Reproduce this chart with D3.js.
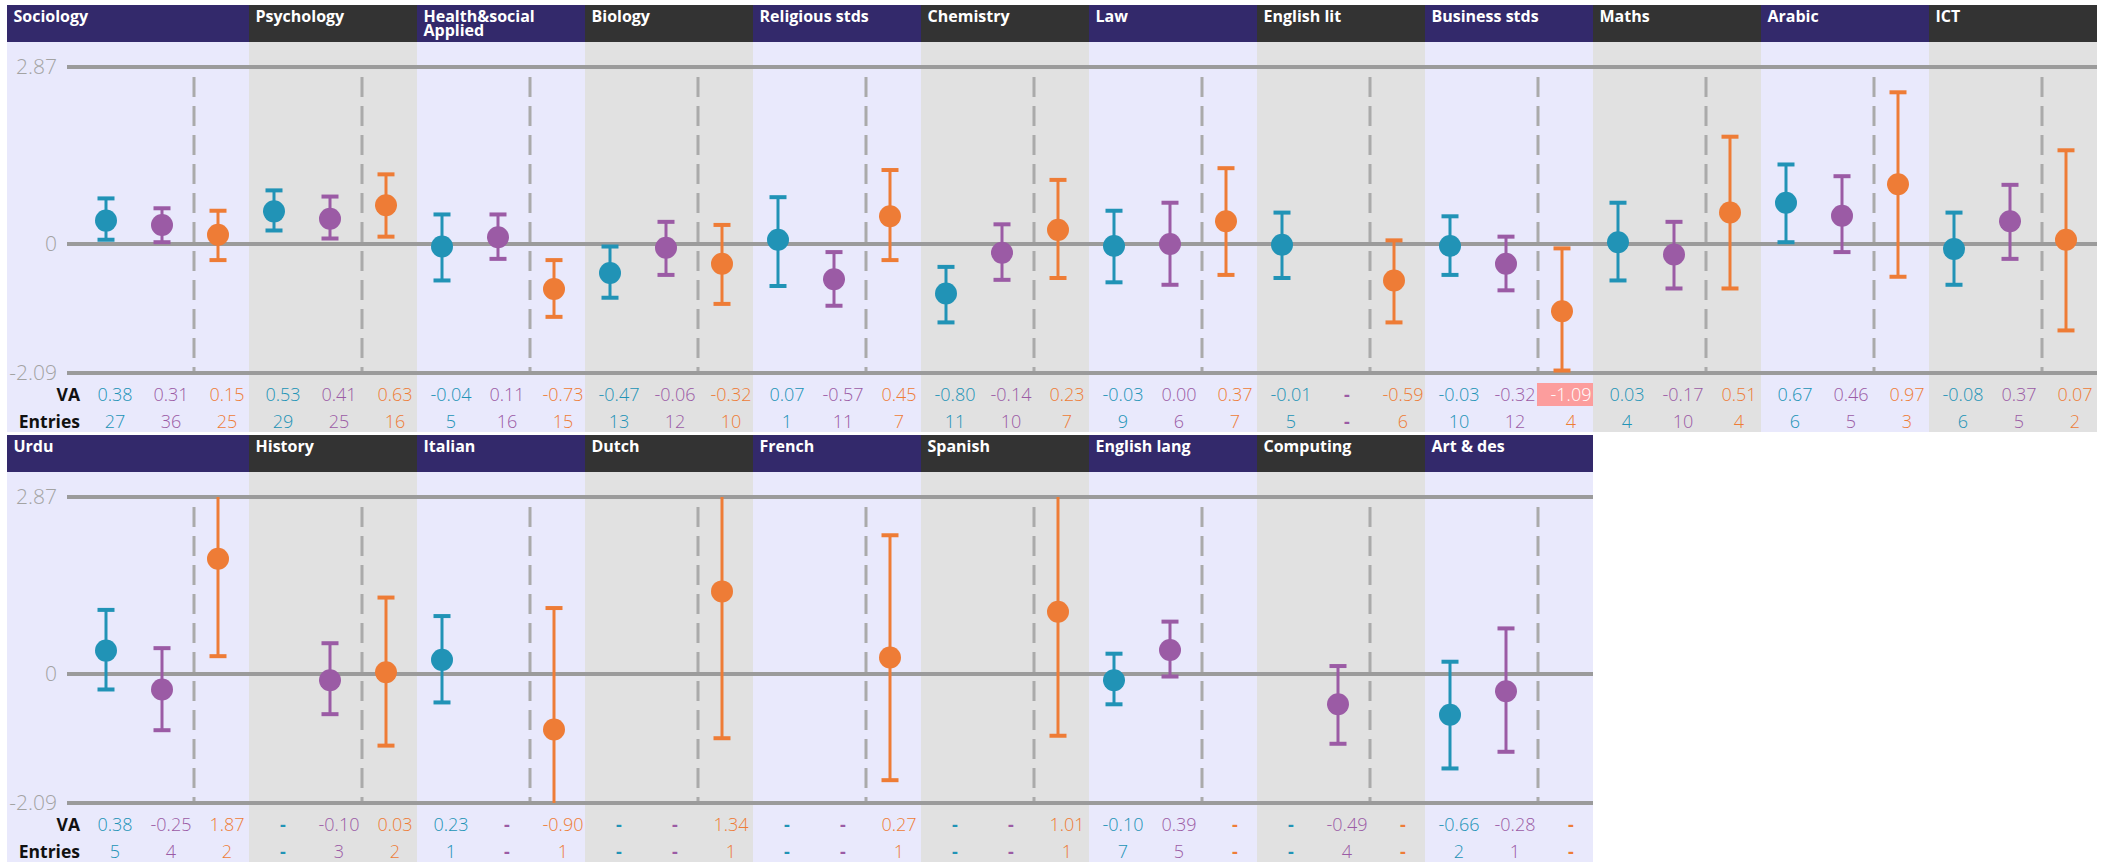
<!DOCTYPE html>
<html><head><meta charset="utf-8">
<script src="https://cdn.jsdelivr.net/npm/d3@7"></script>
<style>body{margin:0;background:#fff} svg{display:block}</style>
</head><body><svg id="c" width="2112" height="867"></svg>
<script>
const subjects = ["Sociology","Psychology","Health&social\nApplied","Biology","Religious stds","Chemistry","Law","English lit","Business stds","Maths","Arabic","ICT",
                  "Urdu","History","Italian","Dutch","French","Spanish","English lang","Computing","Art & des"];
const perRow = 12;
const va1 = [0.38,0.53,-0.04,-0.47,0.07,-0.80,-0.03,-0.01,-0.03,0.03,0.67,-0.08, 0.38,null,0.23,null,null,null,-0.10,null,-0.66];
const lo1 = [0.07,0.22,-0.59,-0.87,-0.68,-1.27,-0.62,-0.55,-0.50,-0.59,0.03,-0.66, -0.25,null,-0.46,null,null,null,-0.49,null,-1.53];
const hi1 = [0.74,0.87,0.48,-0.04,0.76,-0.37,0.54,0.51,0.45,0.67,1.29,0.51, 1.04,null,0.94,null,null,null,0.33,null,0.20];
const n1  = [27,29,5,13,1,11,9,5,10,4,6,6, 5,null,1,null,null,null,7,null,2];
const va2 = [0.31,0.41,0.11,-0.06,-0.57,-0.14,0.00,null,-0.32,-0.17,0.46,0.37, -0.25,-0.10,null,null,null,null,0.39,-0.49,-0.28];
const lo2 = [0.03,0.09,-0.24,-0.50,-1.00,-0.58,-0.66,null,-0.75,-0.72,-0.13,-0.24, -0.91,-0.65,null,null,null,null,-0.04,-1.13,-1.26];
const hi2 = [0.58,0.77,0.48,0.36,-0.13,0.32,0.67,null,0.12,0.36,1.10,0.96, 0.42,0.50,null,null,null,null,0.85,0.13,0.74];
const n2  = [36,25,16,12,11,10,6,null,12,10,5,5, 4,3,null,null,null,null,5,4,1];
const va3 = [0.15,0.63,-0.73,-0.32,0.45,0.23,0.37,-0.59,-1.09,0.51,0.97,0.07, 1.87,0.03,-0.90,1.34,0.27,1.01,null,null,null];
const lo3 = [-0.26,0.12,-1.18,-0.97,-0.26,-0.55,-0.50,-1.27,-2.05,-0.72,-0.53,-1.40, 0.29,-1.16,-2.87,-1.04,-1.72,-1.00,null,null,null];
const hi3 = [0.54,1.13,-0.26,0.31,1.20,1.04,1.23,0.06,-0.07,1.74,2.46,1.52, 3.45,1.24,1.07,3.72,2.25,3.02,null,null,null];
const n3  = [25,16,15,10,7,7,7,6,4,4,3,2, 2,2,1,1,1,1,null,null,null];
const yTicks = [2.87, 0, -2.09];
const seriesColors = ["#2193b6","#9b5ba5","#ee7c36"];

const series = [
  {va: va1, lo: lo1, hi: hi1, n: n1, color: seriesColors[0]},
  {va: va2, lo: lo2, hi: hi2, n: n2, color: seriesColors[1]},
  {va: va3, lo: lo3, hi: hi3, n: n3, color: seriesColors[2]}
];

const svg = d3.select("#c");
const fmt = d3.formatLocale({decimal: ".", thousands: ",", grouping: [3], currency: ["", ""], minus: "-"}).format(".2f");
const tickFmt = v => v === 0 ? "0" : fmt(v);

const rows = [subjects.slice(0, perRow), subjects.slice(perRow)];
const rowTops = [5, 435];
const left = 7, labelW = 74, groupW = 168, headerH = 37, bodyH = 390;
const FONT = "'Open Sans', 'Noto Sans', sans-serif";

rows.forEach((subs, r) => {
  const top = rowTops[r];
  const base = r * perRow;
  const x = d3.scaleBand().domain(subs).range([left + labelW, left + labelW + subs.length * groupW]);
  const sub = d3.scaleBand().domain([0, 1, 2]).range([0, x.bandwidth()]);
  const y = d3.scaleLinear().domain([yTicks[2], yTicks[0]]).range([top + 368, top + 62]);
  const xEnd = x.range()[1];
  const g = svg.append("g");

  // backgrounds + headers
  subs.forEach((s, i) => {
    const x0 = i === 0 ? left : x(s);
    const x1 = x(s) + x.bandwidth();
    const lav = i % 2 === 0;
    g.append("rect").attr("x", x0).attr("y", top + headerH).attr("width", x1 - x0).attr("height", bodyH)
      .attr("fill", lav ? "#e9e9fc" : "#e1e1e1");
    g.append("rect").attr("x", x0).attr("y", top).attr("width", x1 - x0).attr("height", headerH)
      .attr("fill", lav ? "#33296b" : "#333333");
    const t = g.append("text").attr("x", x0 + 6.5).attr("y", top + 16.5)
      .attr("fill", "#fff").attr("font-family", FONT).attr("font-weight", 700).attr("font-size", 16);
    s.split("\n").forEach((line, li) => {
      t.append("tspan").attr("x", x0 + 6.5).attr("dy", li === 0 ? 0 : 14).text(line);
    });
  });

  // dashed separators
  subs.forEach(s => {
    const dx = x(s) + sub(2) + 1;
    g.append("line").attr("x1", dx).attr("x2", dx).attr("y1", y(yTicks[0]) + 10).attr("y2", y(yTicks[2]))
      .attr("stroke", "#aaaaaa").attr("stroke-width", 3).attr("stroke-dasharray", "20,9");
  });

  // axis lines + tick labels
  yTicks.forEach(v => {
    g.append("line").attr("x1", 67).attr("x2", xEnd).attr("y1", y(v)).attr("y2", y(v))
      .attr("stroke", "#9b9b9b").attr("stroke-width", 4);
    g.append("text").attr("x", 57).attr("y", y(v)).attr("dy", "0.35em").attr("text-anchor", "end")
      .attr("fill", "#a3a3a3").attr("font-family", FONT).attr("font-weight", 300).attr("font-size", 21)
      .text(tickFmt(v));
  });

  // row labels
  [["VA", top + 390], ["Entries", top + 417]].forEach(([lab, yy]) => {
    g.append("text").attr("x", 80).attr("y", yy).attr("dy", "0.35em").attr("text-anchor", "end")
      .attr("fill", "#111").attr("font-family", FONT).attr("font-weight", 700).attr("font-size", 17.5).text(lab);
  });

  const [dMin, dMax] = y.domain();
  subs.forEach((s, i) => {
    const idx = base + i;
    series.forEach((ser, k) => {
      const cxCell = x(s) + sub(k) + sub.bandwidth() / 2;
      const cx = cxCell - 3;
      const tx = cxCell + 6;
      const v = ser.va[idx];
      if (v !== null) {
        const lo = ser.lo[idx], hi = ser.hi[idx];
        const loC = Math.max(lo, dMin), hiC = Math.min(hi, dMax);
        g.append("line").attr("x1", cx).attr("x2", cx).attr("y1", y(loC)).attr("y2", y(hiC))
          .attr("stroke", ser.color).attr("stroke-width", 3);
        if (hi <= dMax) g.append("line").attr("x1", cx - 8.5).attr("x2", cx + 8.5).attr("y1", y(hi)).attr("y2", y(hi))
          .attr("stroke", ser.color).attr("stroke-width", 4);
        if (lo >= dMin) g.append("line").attr("x1", cx - 8.5).attr("x2", cx + 8.5).attr("y1", y(lo)).attr("y2", y(lo))
          .attr("stroke", ser.color).attr("stroke-width", 4);
        g.append("circle").attr("cx", cx).attr("cy", y(v)).attr("r", 11).attr("fill", ser.color);
      }
      const highlight = v !== null && v <= -1;
      if (highlight) {
        g.append("rect").attr("x", x(s) + sub(k)).attr("y", top + 378).attr("width", sub.bandwidth()).attr("height", 23)
          .attr("fill", "#fc9d9d");
      }
      g.append("text").attr("x", tx).attr("y", top + 390).attr("dy", "0.35em").attr("text-anchor", "middle")
        .attr("fill", highlight ? "#ffffff" : ser.color).attr("font-family", FONT)
        .attr("font-weight", v === null ? 700 : 300).attr("font-size", 18)
        .text(v === null ? "-" : fmt(v));
      const nn = ser.n[idx];
      g.append("text").attr("x", tx).attr("y", top + 417).attr("dy", "0.35em").attr("text-anchor", "middle")
        .attr("fill", ser.color).attr("font-family", FONT)
        .attr("font-weight", nn === null ? 700 : 300).attr("font-size", 18)
        .text(nn === null ? "-" : nn);
    });
  });
});
</script>
</body></html>
